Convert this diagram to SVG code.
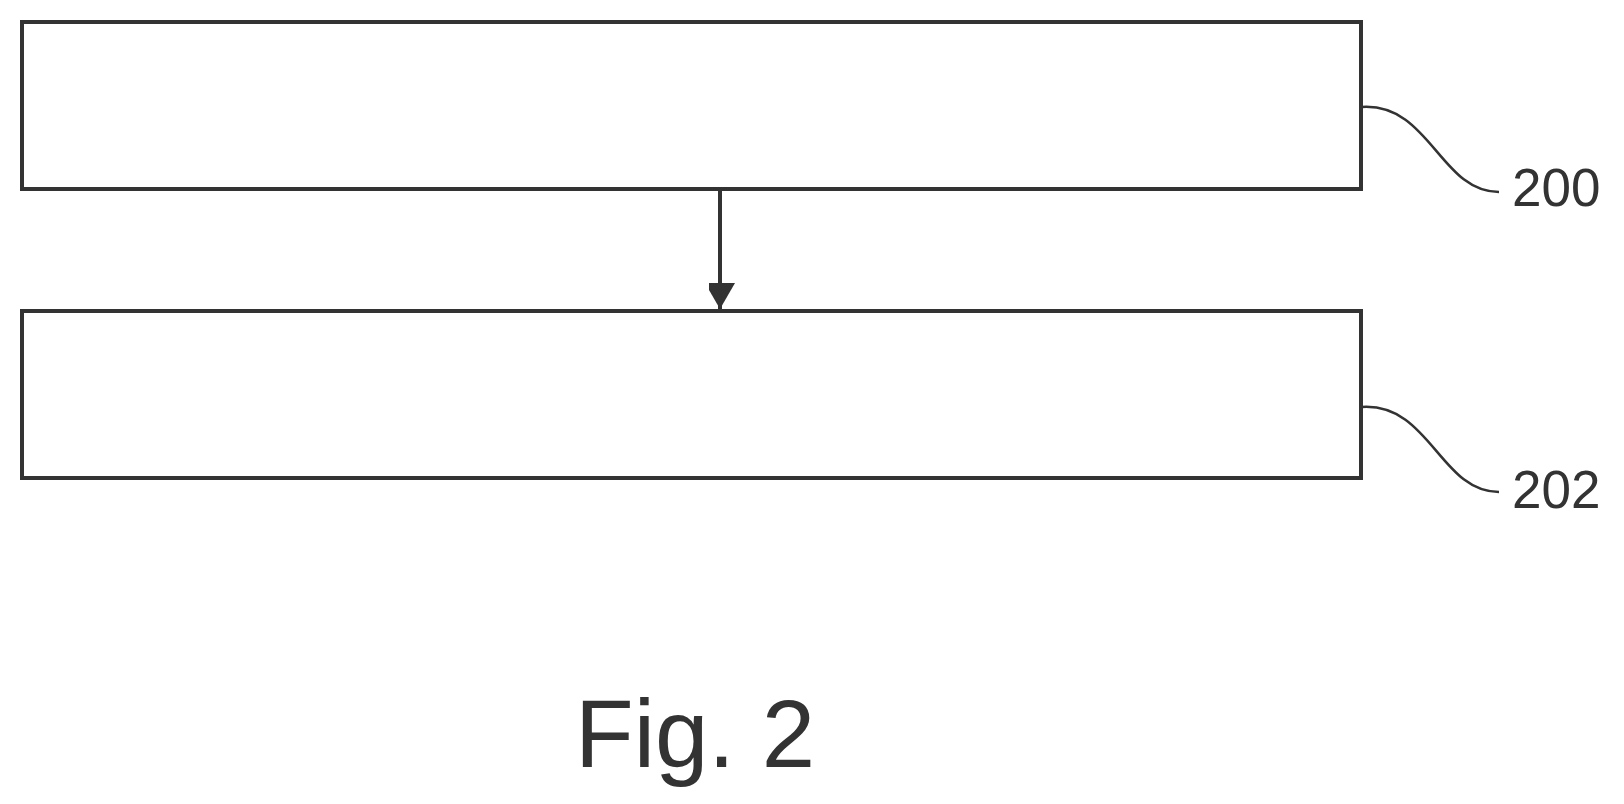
<svg xmlns="http://www.w3.org/2000/svg" width="1624" height="804" viewBox="0 0 1624 804">
<style>
.box{fill:#fff;stroke:#333;stroke-width:4}
.ln{fill:none;stroke:#333;stroke-width:2.5}
.lbl{font-family:"Liberation Sans",Arial,sans-serif;font-size:53px;fill:#333}
</style>
<defs><marker id="ah" markerWidth="30" markerHeight="26" refX="26" refY="15" orient="auto" markerUnits="userSpaceOnUse"><path d="M0,0 L26,15 L0,30 Z" fill="#333"/></marker>
</defs>
<rect width="1624" height="804" fill="#fff"/>
<g id="n200"><rect class="box" x="22" y="22" width="1339" height="167"/><text class="lbl" x="1512" y="206">200</text></g>
<g id="n202"><rect class="box" x="22" y="311" width="1339" height="167"/><text class="lbl" x="1512" y="508">202</text></g>
<g id="connectors">
<path class="ln" d="M720,189 V309" marker-end="url(#ah)" style="stroke-width:4"/>
<path class="ln" d="M1362,107 C1430,103 1440,192 1499,192"/>
<path class="ln" d="M1362,407 C1430,403 1440,492 1499,492"/>
</g>
<text x="575" y="767" style="font-family:'Liberation Sans',Arial,sans-serif;font-size:96px;fill:#333">Fig. 2</text>
</svg>
